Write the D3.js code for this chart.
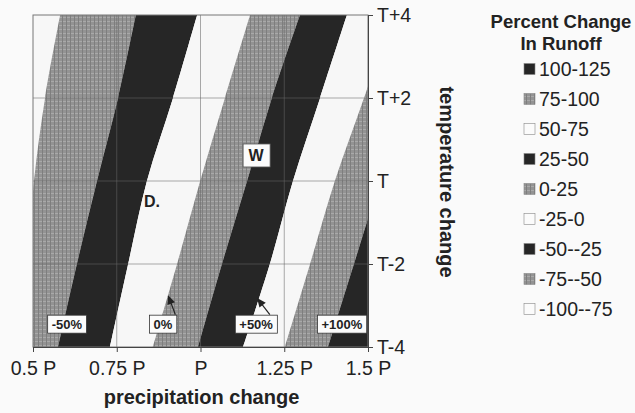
<!DOCTYPE html>
<html lang="en">
<head>
<meta charset="UTF-8">
<title>Percent change in runoff</title>
<script src="https://cdn.jsdelivr.net/npm/d3@7"></script>
<style>
  body { margin: 0; background: #fafafa; }
  svg { display: block; font-family: "Liberation Sans", Arial, sans-serif; }
</style>
</head>
<body>
<div id="chart"></div>
<script>

// axis ticks
var precipTicks = [0.5, 0.75, 1, 1.25, 1.5];
var precipLabels = ["0.5 P", "0.75 P", "P", "1.25 P", "1.5 P"];
var tempTicks = [-4, -2, 0, 2, 4];
var tempLabels = ["T-4", "T-2", "T", "T+2", "T+4"];

// contour lines: precipitation (fraction of P) where each level is crossed,
// read at T-4, T-2, T, T+2, T+4
var contourLevels = [-75, -50, -25, 0, 25, 50, 75, 100];
var contourP = [
  [0.452, 0.485, 0.503, 0.536, 0.581],
  [0.575, 0.631, 0.691, 0.754, 0.807],
  [0.730, 0.784, 0.840, 0.918, 0.990],
  [0.858, 0.930, 0.999, 1.073, 1.148],
  [0.993, 1.064, 1.139, 1.213, 1.297],
  [1.127, 1.207, 1.276, 1.357, 1.437],
  [1.252, 1.327, 1.401, 1.488, 1.572],
  [1.381, 1.458, 1.536, 1.625, 1.715]
];

// legend (top to bottom)
var legendLabels = ["100-125", "75-100", "50-75", "25-50", "0-25", "-25-0", "-50--25", "-75--50", "-100--75"];

// boxed contour labels  [text, p, t]
var contourNotes = [["-50%", 0.601, -3.45], ["0%", 0.888, -3.45], ["+50%", 1.166, -3.45], ["+100%", 1.422, -3.45]];
// arrows [tipP, tipT, tailP, tailT]
var arrows = [[0.903, -2.75, 0.925, -3.22], [1.169, -2.82, 1.207, -3.22]];

var width = 635, height = 413;
var plot = {left: 33, right: 368, top: 15, bottom: 347};

var svg = d3.select("#chart").append("svg")
  .attr("width", width)
  .attr("height", height);

var x = d3.scaleLinear().domain([0.5, 1.5]).range([plot.left, plot.right]);
var y = d3.scaleLinear().domain([-4, 4]).range([plot.bottom, plot.top]);

var defs = svg.append("defs");
defs.append("clipPath").attr("id", "plotclip")
  .append("rect")
  .attr("x", plot.left).attr("y", plot.top)
  .attr("width", plot.right - plot.left).attr("height", plot.bottom - plot.top);

// stippled gray like the scanned original
var pat = defs.append("pattern").attr("id", "stipple")
  .attr("width", 4).attr("height", 4).attr("patternUnits", "userSpaceOnUse");
pat.append("rect").attr("width", 4).attr("height", 4).attr("fill", "#939393");
pat.append("rect").attr("y", 1).attr("width", 4).attr("height", 1).attr("fill", "#a9a9a9");
pat.append("rect").attr("x", 2).attr("width", 1).attr("height", 4).attr("fill", "#7e7e7e");

var fills = ["#f7f7f7", "url(#stipple)", "#262626"]; // white, gray, black repeat

var edge = d3.line()
  .x(function(d) { return x(d[0]); })
  .y(function(d) { return y(d[1]); })
  .curve(d3.curveCatmullRom);

function pts(arr) {
  return arr.map(function(p, i) { return [p, tempTicks[i]]; });
}

// outer limits so first and last bands reach past the frame
var leftEdge = tempTicks.map(function() { return x.domain()[0] - 0.3; });
var rightEdge = tempTicks.map(function() { return x.domain()[1] + 0.5; });
var lines = [leftEdge].concat(contourP).concat([rightEdge]);

var bands = svg.append("g").attr("clip-path", "url(#plotclip)");
for (var i = 0; i < lines.length - 1; i++) {
  var lower = pts(lines[i]);
  var upper = pts(lines[i + 1]).reverse();
  var d = edge(lower) + "L" + edge(upper).slice(1) + "Z";
  bands.append("path").attr("d", d).attr("fill", fills[i % 3]);
}

// grid
var grid = svg.append("g").attr("stroke", "#666").attr("stroke-opacity", 0.55).attr("stroke-width", 1);
grid.selectAll("line.v").data(precipTicks.slice(1, -1)).enter().append("line")
  .attr("x1", function(d) { return x(d); }).attr("x2", function(d) { return x(d); })
  .attr("y1", plot.top).attr("y2", plot.bottom);
grid.selectAll("line.h").data(tempTicks.slice(1, -1)).enter().append("line")
  .attr("y1", function(d) { return y(d); }).attr("y2", function(d) { return y(d); })
  .attr("x1", plot.left).attr("x2", plot.right);

svg.append("rect")
  .attr("x", plot.left).attr("y", plot.top)
  .attr("width", plot.right - plot.left).attr("height", plot.bottom - plot.top)
  .attr("fill", "none").attr("stroke", "#777").attr("stroke-width", 1);

// axes
var xAxis = d3.axisBottom(x).tickValues(precipTicks)
  .tickFormat(function(d, i) { return precipLabels[i]; })
  .tickSize(5).tickPadding(9);
var gx = svg.append("g").attr("transform", "translate(0," + plot.bottom + ")").call(xAxis);
gx.select(".domain").attr("stroke", "#444");
gx.selectAll(".tick line").attr("stroke", "#444");
gx.selectAll("text").attr("font-size", 19.5).attr("fill", "#222")
  .attr("font-family", "'Liberation Sans', Arial, sans-serif");

var yAxis = d3.axisRight(y).tickValues(tempTicks)
  .tickFormat(function(d, i) { return tempLabels[i]; })
  .tickSize(5).tickPadding(4);
var gy = svg.append("g").attr("transform", "translate(" + plot.right + ",0)").call(yAxis);
gy.select(".domain").attr("stroke", "#444");
gy.selectAll(".tick line").attr("stroke", "#444");
gy.selectAll("text").attr("font-size", 19.5).attr("fill", "#222")
  .attr("font-family", "'Liberation Sans', Arial, sans-serif");

svg.append("text")
  .attr("x", (plot.left + plot.right) / 2 + 1).attr("y", 404)
  .attr("text-anchor", "middle").attr("font-size", 20).attr("font-weight", "bold").attr("fill", "#222")
  .text("precipitation change");

svg.append("text")
  .attr("transform", "translate(440," + ((plot.top + plot.bottom) / 2 + 1) + ") rotate(90)")
  .attr("text-anchor", "middle").attr("font-size", 20).attr("font-weight", "bold").attr("fill", "#222")
  .text("temperature change");

// annotations
var notes = svg.append("g");
arrows.forEach(function(a) {
  var x1 = x(a[2]), y1 = y(a[3]), x2 = x(a[0]), y2 = y(a[1]);
  var ang = Math.atan2(y2 - y1, x2 - x1);
  notes.append("line").attr("x1", x1).attr("y1", y1).attr("x2", x2 - 6 * Math.cos(ang)).attr("y2", y2 - 6 * Math.sin(ang))
    .attr("stroke", "#222").attr("stroke-width", 1.2);
  var h = 9, w = 4;
  var bx = x2 - h * Math.cos(ang), by = y2 - h * Math.sin(ang);
  notes.append("path")
    .attr("d", "M" + x2 + "," + y2 +
      "L" + (bx + w * Math.sin(ang)) + "," + (by - w * Math.cos(ang)) +
      "L" + (bx - w * Math.sin(ang)) + "," + (by + w * Math.cos(ang)) + "Z")
    .attr("fill", "#222");
});

contourNotes.forEach(function(n) {
  var g = notes.append("g").attr("transform", "translate(" + x(n[1]) + "," + y(n[2]) + ")");
  var t = g.append("text").attr("text-anchor", "middle").attr("dy", "0.36em")
    .attr("font-size", 13).attr("font-weight", "bold").attr("fill", "#222").text(n[0]);
  var bb = t.node().getBBox();
  g.insert("rect", "text")
    .attr("x", bb.x - 4).attr("y", -9).attr("width", bb.width + 8).attr("height", 18)
    .attr("fill", "#fbfbfb").attr("stroke", "#333").attr("stroke-width", 0.8);
});

var wg = notes.append("g").attr("transform", "translate(" + x(1.166) + "," + y(0.627) + ")");
wg.append("rect").attr("x", -13).attr("y", -11).attr("width", 27).attr("height", 23)
  .attr("fill", "#fbfbfb").attr("stroke", "#555").attr("stroke-width", 0.8);
wg.append("text").attr("text-anchor", "middle").attr("dy", "0.36em")
  .attr("font-size", 16).attr("font-weight", "bold").attr("fill", "#222").text("W");

notes.append("text").attr("x", x(0.855)).attr("y", y(-0.48)).attr("dy", "0.36em")
  .attr("text-anchor", "middle").attr("font-size", 16).attr("font-weight", "bold").attr("fill", "#222")
  .text("D.");

// legend
var lg = svg.append("g");
lg.append("text").attr("x", 561).attr("y", 28).attr("text-anchor", "middle")
  .attr("font-size", 18.5).attr("font-weight", "bold").attr("fill", "#222").text("Percent Change");
lg.append("text").attr("x", 561).attr("y", 50).attr("text-anchor", "middle")
  .attr("font-size", 18.5).attr("font-weight", "bold").attr("fill", "#222").text("In Runoff");

var legendY = d3.scalePoint().domain(legendLabels).range([69, 309]);
var legendFills = ["#262626", "url(#stipple)", "#fbfbfb"];
var items = lg.selectAll("g.item").data(legendLabels).enter().append("g")
  .attr("transform", function(d) { return "translate(524," + legendY(d) + ")"; });
items.append("rect").attr("x", 0).attr("y", -5.5).attr("width", 11).attr("height", 11)
  .attr("fill", function(d, i) { return legendFills[i % 3]; })
  .attr("stroke", "#888").attr("stroke-width", 0.6);
items.append("text").attr("x", 15).attr("dy", "0.36em")
  .attr("font-size", 19.5).attr("fill", "#222").text(function(d) { return d; });

</script>
</body>
</html>
